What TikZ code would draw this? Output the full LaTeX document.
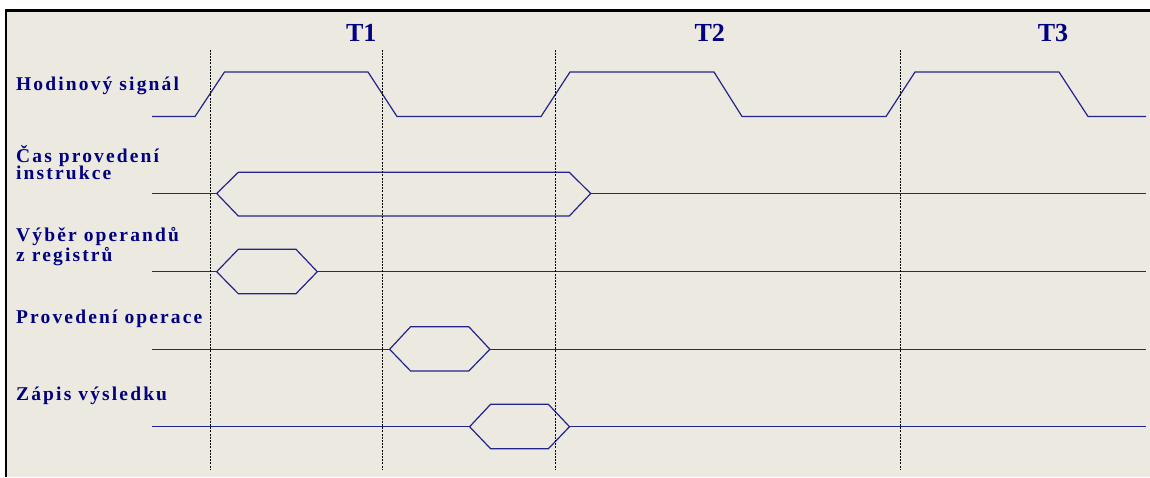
\documentclass[tikz,border=0pt]{standalone}
\usepackage{fontspec}
\setmainfont{Liberation Serif}
\newfontfamily\labfont[LetterSpace=11]{Liberation Serif}
\definecolor{bgc}{RGB}{236,233,224}
\definecolor{sigc}{RGB}{35,35,140}
\definecolor{txtc}{RGB}{0,0,128}
\begin{document}
\begin{tikzpicture}[x=1pt,y=-1pt,
  sig/.style={draw=sigc, line width=1.2pt, line join=miter},
  vline/.style={draw=black, line width=0.9pt, dash pattern=on 2pt off 1.2pt},
  lab/.style={anchor=base west, inner sep=0pt, text=txtc, font=\labfont\bfseries\fontsize{19.5}{20}\selectfont},
  tlab/.style={anchor=base, inner sep=0pt, text=txtc, font=\bfseries\fontsize{26}{28}\selectfont}]
\useasboundingbox (0,0) rectangle (1150,477);
\fill[white] (0,0) rectangle (1150,477);
\fill[bgc] (6,10) rectangle (1150,477);
\draw[line width=2.5pt] (4.8,10.5) -- (1150,10.5);
\draw[line width=2.2pt] (6,10) -- (6,477);

% labels
\node[lab] (l1) at (16,90.7) {Hodinový signál};
\node[lab] (l2a) at (16,162.2) {Čas provedení};
\node[lab] (l2b) at (16,179.9) {instrukce};
\node[lab] (l3a) at (16,241.7) {Výběr operandů};
\node[lab] (l3b) at (16,261.7) {z registrů};
\node[lab] (l4) at (16,323) {Provedení operace};
\node[lab] (l5) at (16,400) {Zápis výsledku};

\node[tlab] (t1) at (361.3,41) {T1};
\node[tlab] (t2) at (709.7,41) {T2};
\node[tlab] (t3) at (1053,41) {T3};

% clock
\draw[sig] (152,116.5) -- (195,116.5) -- (224.5,72) -- (368,72) -- (397,116.5)
  -- (541,116.5) -- (570,72) -- (714,72) -- (742,116.5)
  -- (886,116.5) -- (915,72) -- (1059,72) -- (1088,116.5) -- (1146,116.5);

% instruction time
\draw[sig] (152,193.5) -- (216.7,193.5);
\draw[sig] (216.7,193.5) -- (238.3,172.3) -- (569.3,172.3) -- (590.7,193.5) -- (569.3,216) -- (238.3,216) -- cycle;
\draw[sig] (590.7,193.5) -- (1146,193.5);

% operand fetch
\draw[sig] (152,271.7) -- (216.7,271.7);
\draw[sig] (216.7,271.7) -- (238.3,249.3) -- (296,249.3) -- (317.3,271.7) -- (296,293.7) -- (238.3,293.7) -- cycle;
\draw[sig] (317.3,271.7) -- (1146,271.7);

% operation
\draw[sig] (152,349.3) -- (389.6,349.3);
\draw[sig] (389.6,349.3) -- (410.6,326.7) -- (468.8,326.7) -- (489.9,349.3) -- (468.8,371) -- (410.6,371) -- cycle;
\draw[sig] (489.9,349.3) -- (1146,349.3);

% write result
\draw[sig] (152,426.7) -- (469.6,426.7);
\draw[sig] (469.6,426.7) -- (490.6,404.3) -- (548.4,404.3) -- (569.5,426.7) -- (548.4,448.7) -- (490.6,448.7) -- cycle;
\draw[sig] (569.5,426.7) -- (1146,426.7);

% dashed time markers
\foreach \xx in {210,382.5,555,900.7} {
  \draw[vline] (\xx,49.5) -- (\xx,469);
}
\end{tikzpicture}
\end{document}
